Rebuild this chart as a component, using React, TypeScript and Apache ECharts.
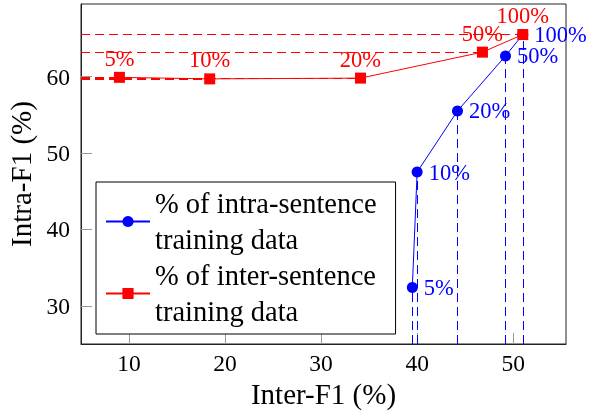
import React, { useEffect, useRef } from "react";
import * as echarts from "echarts";

// ---- data ----
const pctLabels = ["5%", "10%", "20%", "50%", "100%"];
const intraX = [39.5, 40.0, 44.2, 49.2, 51.0];
const intraY = [32.4, 47.5, 55.5, 62.7, 65.5];
const interX = [9.0, 18.4, 34.1, 46.8, 51.0];
const interY = [59.9, 59.7, 59.8, 63.2, 65.5];
const xTicks = [10, 20, 30, 40, 50];
const yTicks = [30, 40, 50, 60];
const intraName = "% of intra-sentence\ntraining data";
const interName = "% of inter-sentence\ntraining data";

const X_MIN = 5;
const X_MAX = 55.5;
const Y_MIN = 25;
const Y_MAX = 69.5;

const FONT = "'Liberation Serif', 'Times New Roman', serif";
const BLUE = "#0000ff";
const RED = "#ff0000";

export default function App() {
  const ref = useRef<HTMLDivElement>(null);
  useEffect(() => {
    if (!ref.current) return;
    const chart = echarts.init(ref.current, null, { renderer: "svg" });
    const intraData = intraX.map((x, i) => [x, intraY[i], pctLabels[i]]);
    const interData = interX.map((x, i) => [x, interY[i], pctLabels[i]]);
    const dash = [9, 5];
    chart.setOption({
      animation: false,
      textStyle: { fontFamily: FONT },
      grid: {
        left: 81,
        right: 35,
        top: 4,
        bottom: 67,
        show: true,
        borderColor: "#222",
        borderWidth: 1,
        outerBoundsMode: "none",
      },
      legend: {
        orient: "vertical",
        left: 96,
        top: 182,
        padding: [4, 19, 5, 9],
        itemGap: 1,
        itemWidth: 44,
        itemHeight: 14,
        borderColor: "#000",
        borderWidth: 1,
        backgroundColor: "#fff",
        z: 10,
        textStyle: {
          fontFamily: FONT,
          fontSize: 28.5,
          lineHeight: 35.5,
          color: "#000",
        },
        data: [intraName, interName],
      },
      xAxis: {
        type: "value",
        min: X_MIN,
        max: X_MAX,
        name: "Inter-F1 (%)",
        nameLocation: "middle",
        nameGap: 32,
        nameTextStyle: { fontFamily: FONT, fontSize: 29, color: "#000" },
        splitLine: { show: false },
        axisLine: { show: true, lineStyle: { color: "#222", width: 1 } },
        axisTick: {
          show: true,
          inside: true,
          length: 11,
          customValues: xTicks,
          lineStyle: { color: "#999", width: 1 },
        },
        axisLabel: {
          customValues: xTicks,
          fontFamily: FONT,
          fontSize: 23.5,
          color: "#000",
          margin: 7,
        },
      },
      yAxis: {
        type: "value",
        min: Y_MIN,
        max: Y_MAX,
        name: "Intra-F1 (%)",
        nameLocation: "middle",
        nameGap: 41,
        nameTextStyle: { fontFamily: FONT, fontSize: 29, color: "#000" },
        splitLine: { show: false },
        axisLine: { show: true, lineStyle: { color: "#222", width: 1 } },
        axisTick: {
          show: true,
          inside: true,
          length: 11,
          customValues: yTicks,
          lineStyle: { color: "#999", width: 1 },
        },
        axisLabel: {
          customValues: yTicks,
          fontFamily: FONT,
          fontSize: 23.5,
          color: "#000",
          margin: 11,
        },
      },
      series: [
        {
          type: "lines",
          coordinateSystem: "cartesian2d",
          silent: true,
          z: 1,
          lineStyle: { color: BLUE, width: 1, type: dash, opacity: 1 },
          data: intraX.map((x, i) => ({
            coords: [
              [x, Y_MIN],
              [x, intraY[i]],
            ],
          })),
        },
        {
          type: "lines",
          coordinateSystem: "cartesian2d",
          silent: true,
          z: 1,
          lineStyle: { color: RED, width: 1, type: dash, opacity: 1 },
          data: interX.map((x, i) => ({
            coords: [
              [X_MIN, interY[i]],
              [x, interY[i]],
            ],
          })),
        },
        {
          name: intraName,
          type: "line",
          data: intraData,
          symbol: "circle",
          symbolSize: 11,
          itemStyle: { color: BLUE },
          lineStyle: { color: BLUE, width: 1 },
          label: {
            show: true,
            position: "right",
            distance: 6,
            formatter: (p: any) => p.value[2],
            color: BLUE,
            fontFamily: FONT,
            fontSize: 22.5,
          },
          z: 3,
        },
        {
          name: interName,
          type: "line",
          data: interData,
          symbol: "rect",
          symbolSize: 11,
          itemStyle: { color: RED },
          lineStyle: { color: RED, width: 1 },
          label: {
            show: true,
            position: "top",
            distance: 2,
            formatter: (p: any) => p.value[2],
            color: RED,
            fontFamily: FONT,
            fontSize: 22.5,
          },
          z: 4,
        },
      ],
    });
    return () => chart.dispose();
  }, []);
  return (
    <div
      ref={ref}
      style={{ position: "fixed", left: 0, top: 0, width: 601, height: 411 }}
    />
  );
}
